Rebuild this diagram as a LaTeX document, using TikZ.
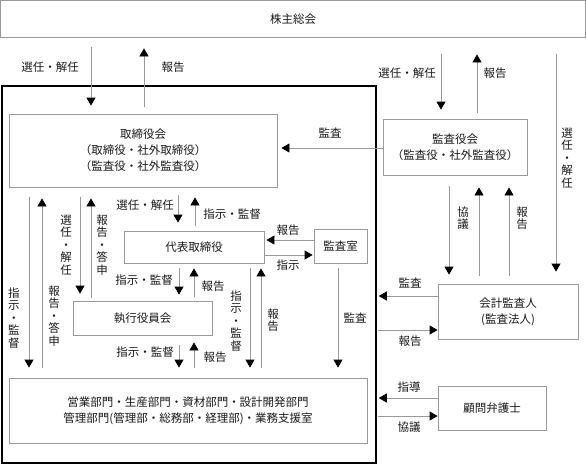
\documentclass[tikz,border=0pt]{standalone}
\usepackage{fontspec}
\newfontfamily\jpfont{Noto Sans CJK JP}
\usetikzlibrary{arrows.meta}
\definecolor{ln}{HTML}{9A9A9A}
\definecolor{tx}{HTML}{1A1A1A}
\begin{document}
\begin{tikzpicture}[x=1pt,y=-1pt,
  box/.style={draw=ln,line width=0.8pt,fill=white,rectangle,inner sep=0pt,align=center,
    font=\jpfont\fontsize{11.5}{16}\selectfont,text=tx},
  arr/.style={draw=ln,line width=0.8pt,-{Triangle[color=black,length=8pt,width=9pt]}},
  lab/.style={font=\jpfont\fontsize{11.5}{14}\selectfont,text=tx,inner sep=0pt},
  vlab/.style={lab,align=center,font=\jpfont\fontsize{11.5}{12.5}\selectfont},
]
\useasboundingbox (0,0) rectangle (586,464);
% company frame
\node[draw=black,line width=1.5pt,minimum width=374pt,minimum height=377pt,inner sep=0pt] (comp) at (189,274.5) {};
% boxes
\node[box,minimum width=585pt,minimum height=36.5pt] (kabu) at (293,18.75) {株主総会};
\node[box,minimum width=268pt,minimum height=73pt] (tori) at (143,150.5) {取締役会\\（取締役・社外取締役）\\（監査役・社外監査役）};
\node[box,minimum width=144pt,minimum height=56pt] (kansa) at (455,147) {監査役会\\（監査役・社外監査役）};
\node[box,minimum width=140pt,minimum height=32pt] (daihyo) at (194,247) {代表取締役};
\node[box,minimum width=53pt,minimum height=34pt] (shitsu) at (340.5,246) {監査室};
\node[box,minimum width=139pt,minimum height=34pt] (shikko) at (142.5,318) {執行役員会};
\node[box,minimum width=358pt,minimum height=65pt] (eigyo) at (188,410.5) {営業部門・生産部門・資材部門・設計開発部門\\管理部門(管理部・総務部・経理部)・業務支援室};
\node[box,minimum width=140pt,minimum height=55pt] (kaikei) at (508,311.5) {会計監査人\\(監査法人)};
\node[box,minimum width=108pt,minimum height=44pt] (komon) at (492,408) {顧問弁護士};
% arrows
\draw[arr,shorten <=10pt,shorten >=8pt] (kabu.south -| 91,0) -- (tori.north -| 91,0);
\draw[arr,shorten <=7pt,shorten >=11pt] (tori.north -| 144,0) -- (kabu.south -| 144,0);
\draw[arr,shorten <=17pt,shorten >=9pt] (kabu.south -| 441,0) -- (kansa.north -| 441,0);
\draw[arr,shorten <=6pt,shorten >=17pt] (kansa.north -| 477,0) -- (kabu.south -| 477,0);
\draw[arr,shorten <=17pt,shorten >=12pt] (kabu.south -| 556,0) -- (kaikei.north -| 556,0);
\draw[arr,shorten >=4pt] (kansa.west |- 0,148) -- (tori.east |- 0,148);
\draw[arr,shorten <=11pt,shorten >=9pt] (kansa.south -| 449,0) -- (kaikei.north -| 449,0);
\draw[arr,shorten <=8pt,shorten >=12pt] (kaikei.north -| 479,0) -- (kansa.south -| 479,0);
\draw[arr,shorten <=8pt,shorten >=12pt] (kaikei.north -| 509,0) -- (kansa.south -| 509,0);
\draw[arr,shorten <=10pt,shorten >=7pt] (tori.south -| 80,0) -- (shikko.north -| 80,0);
\draw[arr,shorten <=3pt,shorten >=11pt] (shikko.north -| 91,0) -- (tori.south -| 91,0);
\draw[arr,shorten <=10pt,shorten >=10pt] (tori.south -| 29,0) -- (eigyo.north -| 29,0);
\draw[arr,shorten <=10pt,shorten >=11pt] (eigyo.north -| 42,0) -- (tori.south -| 42,0);
\draw[arr,shorten <=8pt,shorten >=8pt] (tori.south -| 178,0) -- (daihyo.north -| 178,0);
\draw[arr,shorten <=5pt,shorten >=10pt] (daihyo.north -| 195,0) -- (tori.south -| 195,0);
\draw[arr,shorten >=2pt] (shitsu.west |- 0,240) -- (daihyo.east |- 0,240);
\draw[arr,shorten <=1pt,shorten >=1pt] (daihyo.east |- 0,255) -- (shitsu.west |- 0,255);
\draw[arr,shorten <=5pt,shorten >=6pt] (daihyo.south -| 179,0) -- (shikko.north -| 179,0);
\draw[arr,shorten <=4pt,shorten >=5pt] (shikko.north -| 194,0) -- (daihyo.south -| 194,0);
\draw[arr,shorten <=10pt,shorten >=10pt] (shikko.south -| 179,0) -- (eigyo.north -| 179,0);
\draw[arr,shorten <=10pt,shorten >=7pt] (eigyo.north -| 194,0) -- (shikko.south -| 194,0);
\draw[arr,shorten <=5pt,shorten >=10pt] (daihyo.south -| 250,0) -- (eigyo.north -| 250,0);
\draw[arr,shorten <=10pt,shorten >=5pt] (eigyo.north -| 261,0) -- (daihyo.south -| 261,0);
\draw[arr,shorten <=5pt,shorten >=10pt] (shitsu.south -| 338,0) -- (eigyo.north -| 338,0);
\draw[arr,shorten >=2pt] (kaikei.west |- 0,296) -- (comp.east |- 0,296);
\draw[arr,shorten <=1pt] (comp.east |- 0,330) -- (kaikei.west |- 0,330);
\draw[arr,shorten >=2pt] (komon.west |- 0,398) -- (comp.east |- 0,398);
\draw[arr,shorten <=1pt] (comp.east |- 0,416) -- (komon.west |- 0,416);
% labels
\node[lab] (l1) at (50,67) {選任・解任};
\node[lab] (l2) at (173,67) {報告};
\node[lab] (l3) at (407,73) {選任・解任};
\node[lab] (l4) at (495,73) {報告};
\node[vlab] (l5) at (567,158) {選\\任\\・\\解\\任};
\node[lab] (l6) at (330,133) {監査};
\node[vlab] (l7) at (463,218) {協\\議};
\node[vlab] (l8) at (522,218) {報\\告};
\node[vlab] (l9) at (66,245) {選\\任\\・\\解\\任};
\node[vlab] (l10) at (102,245) {報\\告\\・\\答\\申};
\node[vlab] (l11) at (14,318) {指\\示\\・\\監\\督};
\node[vlab] (l12) at (54,316) {報\\告\\・\\答\\申};
\node[lab] (l13) at (145,205) {選任・解任};
\node[lab] (l14) at (232,214) {指示・監督};
\node[lab] (l15) at (288,230) {報告};
\node[lab] (l16) at (288,265) {指示};
\node[lab] (l17) at (144,280) {指示・監督};
\node[lab] (l18) at (213,286) {報告};
\node[lab] (l19) at (145,352) {指示・監督};
\node[lab] (l20) at (215,357) {報告};
\node[vlab] (l21) at (236,321) {指\\示\\・\\監\\督};
\node[vlab] (l22) at (273,320) {報\\告};
\node[lab] (l23) at (355,318) {監査};
\node[lab] (l24) at (410,283) {監査};
\node[lab] (l25) at (410,341) {報告};
\node[lab] (l26) at (409,387) {指導};
\node[lab] (l27) at (409,427) {協議};
\end{tikzpicture}
\end{document}
